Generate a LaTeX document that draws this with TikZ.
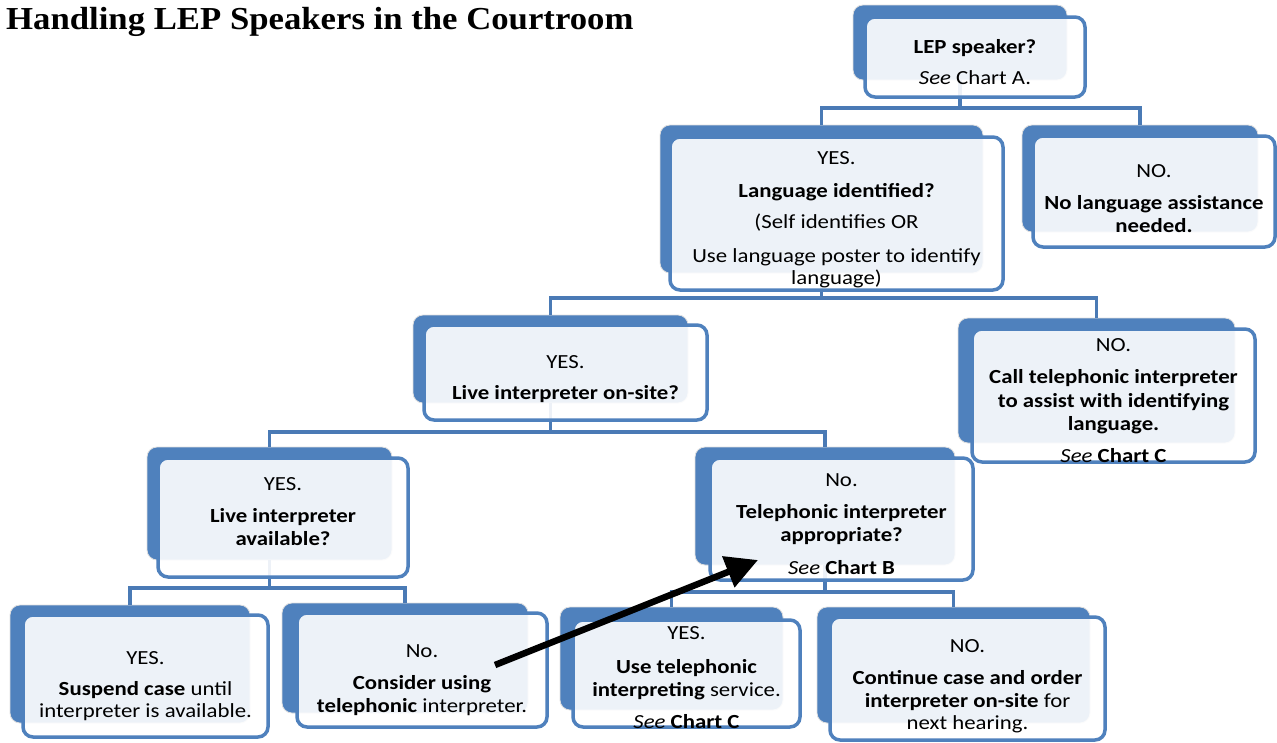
\documentclass[tikz,border=0pt]{standalone}
\usepackage{fontspec}
\setmainfont{Carlito}[FakeStretch=1.14]
\newfontfamily\titlefont{Liberation Serif}[FakeStretch=1.085]
\usetikzlibrary{arrows.meta}
\definecolor{lepblue}{HTML}{4F81BD}
\definecolor{lepline}{HTML}{4A7AB5}
\begin{document}
\begin{tikzpicture}[x=1pt,y=-1pt,
  backbox/.style={draw=black!12, line width=0.8pt, fill=lepblue, rounded corners=10pt, inner sep=0pt, outer sep=0pt},
  frontbox/.style={draw=lepblue, line width=3.5pt, fill=white, fill opacity=0.9, rounded corners=10pt, inner sep=0pt, outer sep=0pt},
  txt/.style={align=center, inner sep=0pt, font=\fontsize{20}{22.5}\selectfont, text=black},
  conn/.style={draw=lepline, line width=3.8pt},
  bigarrow/.style={draw=black, line width=6.5pt, -{Triangle[length=32pt,width=32pt]}}
]
\useasboundingbox (0,0) rectangle (1277,742);
\fill[white] (0,0) rectangle (1277,742);

\node[anchor=base west, inner sep=0pt, font=\titlefont\bfseries\fontsize{32}{36}\selectfont] (title) at (6,29) {Handling LEP Speakers in the Courtroom};

% back boxes
\node[backbox, minimum width=214, minimum height=75] (b1) at (960,42.5) {};
\node[backbox, minimum width=323, minimum height=148] (b2) at (821.5,199) {};
\node[backbox, minimum width=236, minimum height=107] (b3) at (1140,178.5) {};
\node[backbox, minimum width=275, minimum height=88] (b4) at (550.5,359) {};
\node[backbox, minimum width=277, minimum height=125] (b5) at (1096.5,380.5) {};
\node[backbox, minimum width=245, minimum height=113] (b6) at (269.5,503.5) {};
\node[backbox, minimum width=260, minimum height=118] (b7) at (825,506) {};
\node[backbox, minimum width=240, minimum height=118] (b8) at (130,664) {};
\node[backbox, minimum width=246, minimum height=110] (b9) at (405,658) {};
\node[backbox, minimum width=223, minimum height=103] (b10) at (671.5,658.5) {};
\node[backbox, minimum width=273, minimum height=116] (b11) at (953.5,665) {};

% connectors
\draw[conn] (b1.south) -- ++(0,28) -| (b2.north);
\draw[conn] (b1.south) -- ++(0,28) -| (b3.north);
\draw[conn] (b2.south) -- ++(0,25) -| (b4.north);
\draw[conn] (b2.south) -- ++(0,25) -| (b5.north);
\draw[conn] (b4.south) -- ++(0,29) -| (b6.north);
\draw[conn] (b4.south) -- ++(0,29) -| (b7.north);
\draw[conn] (b6.south) -- ++(0,28) -| (b8.north);
\draw[conn] (b6.south) -- ++(0,28) -| (b9.north);
\draw[conn] (b7.south) -- ++(0,27) -| (b10.north);
\draw[conn] (b7.south) -- ++(0,27) -| (b11.north);

% front boxes
\node[frontbox, minimum width=220, minimum height=80] (n1) at (975,57) {};
\node[frontbox, minimum width=333, minimum height=153] (n2) at (836.5,213.5) {};
\node[frontbox, minimum width=242, minimum height=111] (n3) at (1154,191.5) {};
\node[frontbox, minimum width=283, minimum height=95] (n4) at (565.5,372.5) {};
\node[frontbox, minimum width=283, minimum height=133] (n5) at (1113.5,395.5) {};
\node[frontbox, minimum width=250, minimum height=119] (n6) at (283,517.5) {};
\node[frontbox, minimum width=263, minimum height=122] (n7) at (841.5,519) {};
\node[frontbox, minimum width=245, minimum height=122] (n8) at (145.5,676) {};
\node[frontbox, minimum width=250, minimum height=114] (n9) at (422,670) {};
\node[frontbox, minimum width=227, minimum height=107] (n10) at (686.5,673.5) {};
\node[frontbox, minimum width=275, minimum height=123] (n11) at (967.5,678.5) {};

% texts
\node[txt, yshift=-5pt] (t1) at (n1) {\textbf{LEP speaker?}\\[8.5pt]\textit{See} Chart A.};
\node[txt, yshift=-6pt] (t2) at (n2) {YES.\\[11pt]\textbf{Language identified?}\\[8.5pt](Self identifies OR\\[11pt]Use language poster to identify\\language)};
\node[txt, yshift=-7pt] (t3) at (n3) {NO.\\[9.5pt]\textbf{No language assistance}\\\textbf{needed.}};
\node[txt, yshift=-7pt] (t4) at (n4) {YES.\\[8.5pt]\textbf{Live interpreter on-site?}};
\node[txt, yshift=-5pt] (t5) at (n5) {NO.\\[10pt]\textbf{Call telephonic interpreter}\\[1.5pt]\textbf{to assist with identifying}\\\textbf{language.}\\[10pt]\textit{See} \textbf{Chart C}};
\node[txt, yshift=6pt] (t6) at (n6) {YES.\\[9.5pt]\textbf{Live interpreter}\\\textbf{available?}};
\node[txt, yshift=-5pt] (t7) at (n7) {No.\\[9.5pt]\textbf{Telephonic interpreter}\\\textbf{appropriate?}\\[10.5pt]\textit{See} \textbf{Chart B}};
\node[txt, yshift=-10pt] (t8) at (n8) {YES.\\[8.5pt]\textbf{Suspend case} until\\interpreter is available.};
\node[txt, yshift=-10pt] (t9) at (n9) {No.\\[9.5pt]\textbf{Consider using}\\\textbf{telephonic} interpreter.};
\node[txt, yshift=-4pt] (t10) at (n10) {YES.\\[11.5pt]\textbf{Use telephonic}\\\textbf{interpreting} service.\\[9.5pt]\textit{See} \textbf{Chart C}};
\node[txt, yshift=-8pt] (t11) at (n11) {NO.\\[9.5pt]\textbf{Continue case and order}\\\textbf{interpreter on-site} for\\next hearing.};

% arrow
\coordinate (atail) at (495,665);
\coordinate (ahead) at (758,560);
\draw[bigarrow] (atail) -- (ahead);
\end{tikzpicture}
\end{document}
